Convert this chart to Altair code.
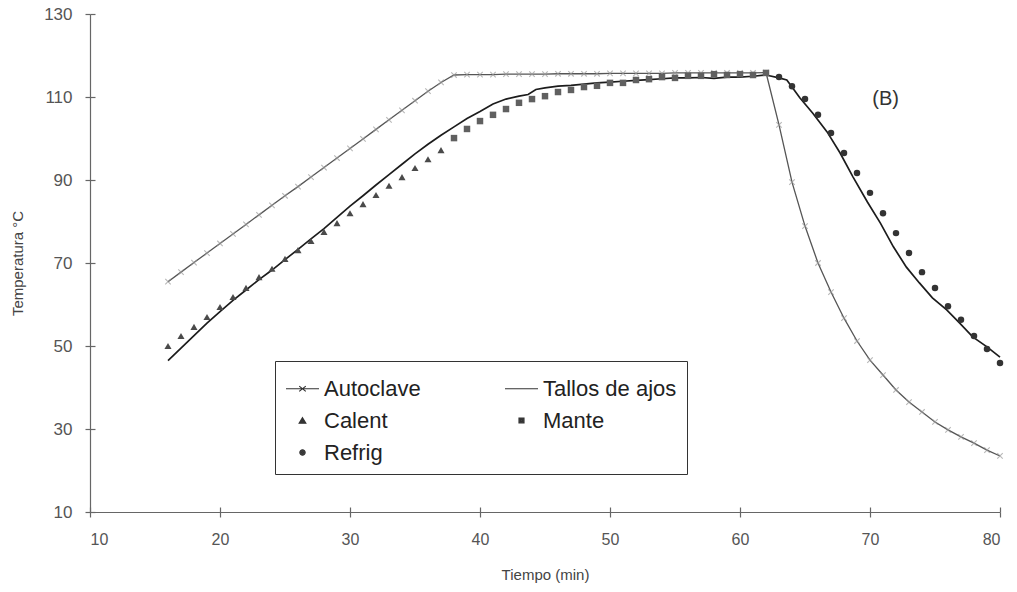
import altair as alt
import pandas as pd

# ---------------- data ----------------
# Autoclave (every minute, 16..80)
t_auto = list(range(16, 81))
autoclave = [65.5, 67.8, 70.1, 72.4, 74.7, 77.0, 79.3, 81.6, 83.9, 86.2, 88.4, 90.7,
             93.0, 95.3, 97.6, 99.9, 102.2, 104.5, 106.8, 109.1, 111.4, 113.5, 115.3,
             115.4, 115.4, 115.4, 115.5, 115.5, 115.5, 115.5, 115.6, 115.6, 115.6, 115.6,
             115.7, 115.7, 115.7, 115.7, 115.7, 115.8, 115.8, 115.8, 115.8, 115.8, 115.8,
             115.8, 115.9,
             103.3, 89.5, 78.9, 70.0, 63.0, 56.7, 51.2, 46.6, 43.0, 39.4, 36.5, 34.1,
             31.7, 29.8, 28.1, 26.6, 24.9, 23.5]

# Tallos de ajos (solid line)
t_tallos = [16, 17, 18, 19, 20, 21, 22, 23, 24, 25, 26, 27, 28, 29, 30, 31, 32, 33, 34, 35,
            36, 37, 38, 39, 40, 41, 42, 43, 43.7, 44.3, 45, 46, 47, 48, 49, 50, 51, 52, 53,
            54, 55, 56, 57, 58, 59, 60, 61, 62, 63, 63.6, 64, 64.6, 65.6, 66.7, 67.7, 68.7,
            69.8, 70.8, 71.8, 72.8, 73.8, 74.8, 75.9, 76.9, 77.9, 79, 80]
tallos = [46.5, 49.5, 52.5, 55.5, 58.3, 61.0, 63.5, 66.0, 68.3, 70.8, 73.3, 75.8, 78.3, 81.0,
          83.7, 86.2, 88.8, 91.3, 93.8, 96.3, 98.6, 100.8, 102.8, 104.8, 106.5, 108.3, 109.5,
          110.2, 110.6, 111.8, 112.2, 112.6, 112.8, 113.1, 113.4, 113.6, 113.8, 114.0, 114.2,
          114.4, 114.6, 114.6, 114.7, 114.5, 114.8, 114.8, 115.0, 115.3, 114.6, 114.1, 112.4,
          109.8, 106.1, 101.6, 96.5, 90.7, 84.7, 79.6, 73.9, 69.0, 65.2, 61.6, 58.7, 55.5,
          52.2, 49.8, 47.3]

# Calent (triangles)
t_calent = list(range(16, 38))
calent = [50.0, 52.4, 54.6, 57.0, 59.4, 61.8, 64.0, 66.6, 68.6, 71.0, 73.1, 75.3, 77.5,
          79.6, 82.0, 84.2, 86.4, 88.6, 90.7, 92.9, 95.0, 97.2]

# Mante (squares)
t_mante = list(range(38, 63))
mante = [100.1, 102.3, 104.2, 105.7, 107.1, 108.6, 109.5, 110.2, 111.2, 111.7, 112.4, 112.7,
         113.4, 113.4, 114.1, 114.3, 114.8, 114.6, 115.1, 115.1, 115.5, 115.3, 115.5, 115.3,
         115.8]

# Refrig (circles)
t_refrig = list(range(63, 81))
refrig = [114.8, 112.6, 109.5, 105.7, 101.3, 96.5, 91.7, 86.9, 82.0, 77.2, 72.4, 67.8, 64.0,
          59.6, 56.3, 52.4, 49.3, 45.9]

x_ticks = [10, 20, 30, 40, 50, 60, 70, 80]
y_ticks = [10, 30, 50, 70, 90, 110, 130]

# legend entries (column-major order: left column first)
legend_names = ["Autoclave", "Calent", "Refrig", "Tallos de ajos", "Mante"]
legend_shapes = [
    "M-1,0H1M-0.2,-0.16L0.2,0.16M-0.2,0.16L0.2,-0.16",
    "M0,-0.17L0.2,0.16L-0.2,0.16Z M0,-0.06L0.08,0.08L-0.08,0.08Z",
    "M0.16,0A0.16,0.16 0 1,1 -0.16,0A0.16,0.16 0 1,1 0.16,0Z "
    "M0.06,0A0.06,0.06 0 1,1 -0.06,0A0.06,0.06 0 1,1 0.06,0Z",
    "M-1,0H1",
    "M-0.15,-0.15H0.15V0.15H-0.15Z M-0.06,-0.06H0.06V0.06H-0.06Z",
]

annot = pd.DataFrame({"t": [71.2], "v": [109.5], "txt": ["(B)"]})

# ---------------- chart ----------------
FONT = "Liberation Sans"
xs = alt.Scale(domain=[10, 80], nice=False, zero=False)
ys = alt.Scale(domain=[10, 130], nice=False, zero=False)

# main axes (outer ticks, labels, titles)
X = alt.X("t:Q", scale=xs,
          axis=alt.Axis(orient="bottom", values=x_ticks, title="Tiempo (min)", grid=False,
                        labelFontSize=16, labelPadding=14, tickSize=5,
                        titleFontSize=15, titlePadding=20, titleFontWeight="normal"))
Y = alt.Y("v:Q", scale=ys,
          axis=alt.Axis(orient="left", values=y_ticks, title="Temperatura °C", grid=False,
                        labelFontSize=17, labelPadding=13, tickSize=5,
                        titleFontSize=15, titlePadding=18, titleFontWeight="normal"))
# inner halves of the crossing ticks
X_in = alt.X("t:Q", scale=xs,
             axis=alt.Axis(orient="bottom", values=x_ticks, title="", grid=False, offset=-5,
                           tickSize=5, labels=False, domain=False))
Y_in = alt.Y("v:Q", scale=ys,
             axis=alt.Axis(orient="left", values=y_ticks, title="", grid=False, offset=-5,
                           tickSize=5, labels=False, domain=False))
# no axis
Xn = alt.X("t:Q", scale=xs, axis=None)
Yn = alt.Y("v:Q", scale=ys, axis=None)

df_auto = pd.DataFrame({"t": t_auto, "v": autoclave})
df_tallos = pd.DataFrame({"t": t_tallos, "v": tallos})
df_calent = pd.DataFrame({"t": t_calent, "v": calent})
df_mante = pd.DataFrame({"t": t_mante, "v": mante})
df_refrig = pd.DataFrame({"t": t_refrig, "v": refrig})

auto_line = alt.Chart(df_auto).mark_line(color="#555555", strokeWidth=1.3).encode(x=X, y=Y)
auto_pts = alt.Chart(df_auto).mark_point(
    shape="M-1,-1L1,1M-1,1L1,-1", filled=False, color="#9a9a9a", size=30, strokeWidth=1.1
).encode(x=X_in, y=Y_in)
tallos_line = alt.Chart(df_tallos).mark_line(color="#1c1c1c", strokeWidth=1.7).encode(x=Xn, y=Yn)
calent_pts = alt.Chart(df_calent).mark_point(
    shape="triangle-up", filled=True, color="#4a4a4a", size=50, opacity=1
).encode(x=Xn, y=Yn)
mante_pts = alt.Chart(df_mante).mark_point(
    shape="square", filled=True, color="#606060", size=42, opacity=1
).encode(x=Xn, y=Yn)
refrig_pts = alt.Chart(df_refrig).mark_point(
    shape="circle", filled=True, color="#333333", size=42, opacity=1
).encode(x=Xn, y=Yn)

df_leg = pd.DataFrame({
    "leyenda": legend_names,
    "t": [t_auto[0], t_calent[0], t_refrig[0], t_tallos[0], t_mante[0]],
    "v": [autoclave[0], calent[0], refrig[0], tallos[0], mante[0]],
})
legend_layer = alt.Chart(df_leg).mark_point(
    filled=False, color="#333333", fill="#4a4a4a", strokeWidth=1.2, opacity=0
).encode(
    x=Xn, y=Yn,
    shape=alt.Shape("leyenda:N",
                    scale=alt.Scale(domain=legend_names, range=legend_shapes),
                    sort=legend_names,
                    legend=alt.Legend(
                        title=None, orient="none", legendX=185, legendY=347,
                        columns=2, columnPadding=81, rowPadding=3,
                        padding=10, strokeColor="#333333", fillColor="white",
                        labelFont=FONT, labelFontSize=22, labelColor="#222222",
                        labelOffset=4, symbolSize=1089, symbolStrokeWidth=1.2,
                    )),
)

text_b = alt.Chart(annot).mark_text(
    font=FONT, fontSize=20, color="#333333", align="center", baseline="middle"
).encode(x=Xn, y=Yn, text="txt:N")

chart = alt.layer(
    auto_line, auto_pts, tallos_line, calent_pts, mante_pts, refrig_pts, legend_layer, text_b
).resolve_axis(x="independent", y="independent").properties(
    width=910, height=498,
    autosize=alt.AutoSizeParams(type="none"),
    padding={"left": 90, "top": 14, "right": 17, "bottom": 80},
    background="white",
).configure_view(stroke=None).configure_axis(
    labelFont=FONT, titleFont=FONT, labelColor="#555555", titleColor="#444444",
    domainColor="#666666", tickColor="#666666", domainWidth=1.2, tickWidth=1.2,
)

chart.save("out.html", embed_options={"renderer": "svg", "actions": False})
